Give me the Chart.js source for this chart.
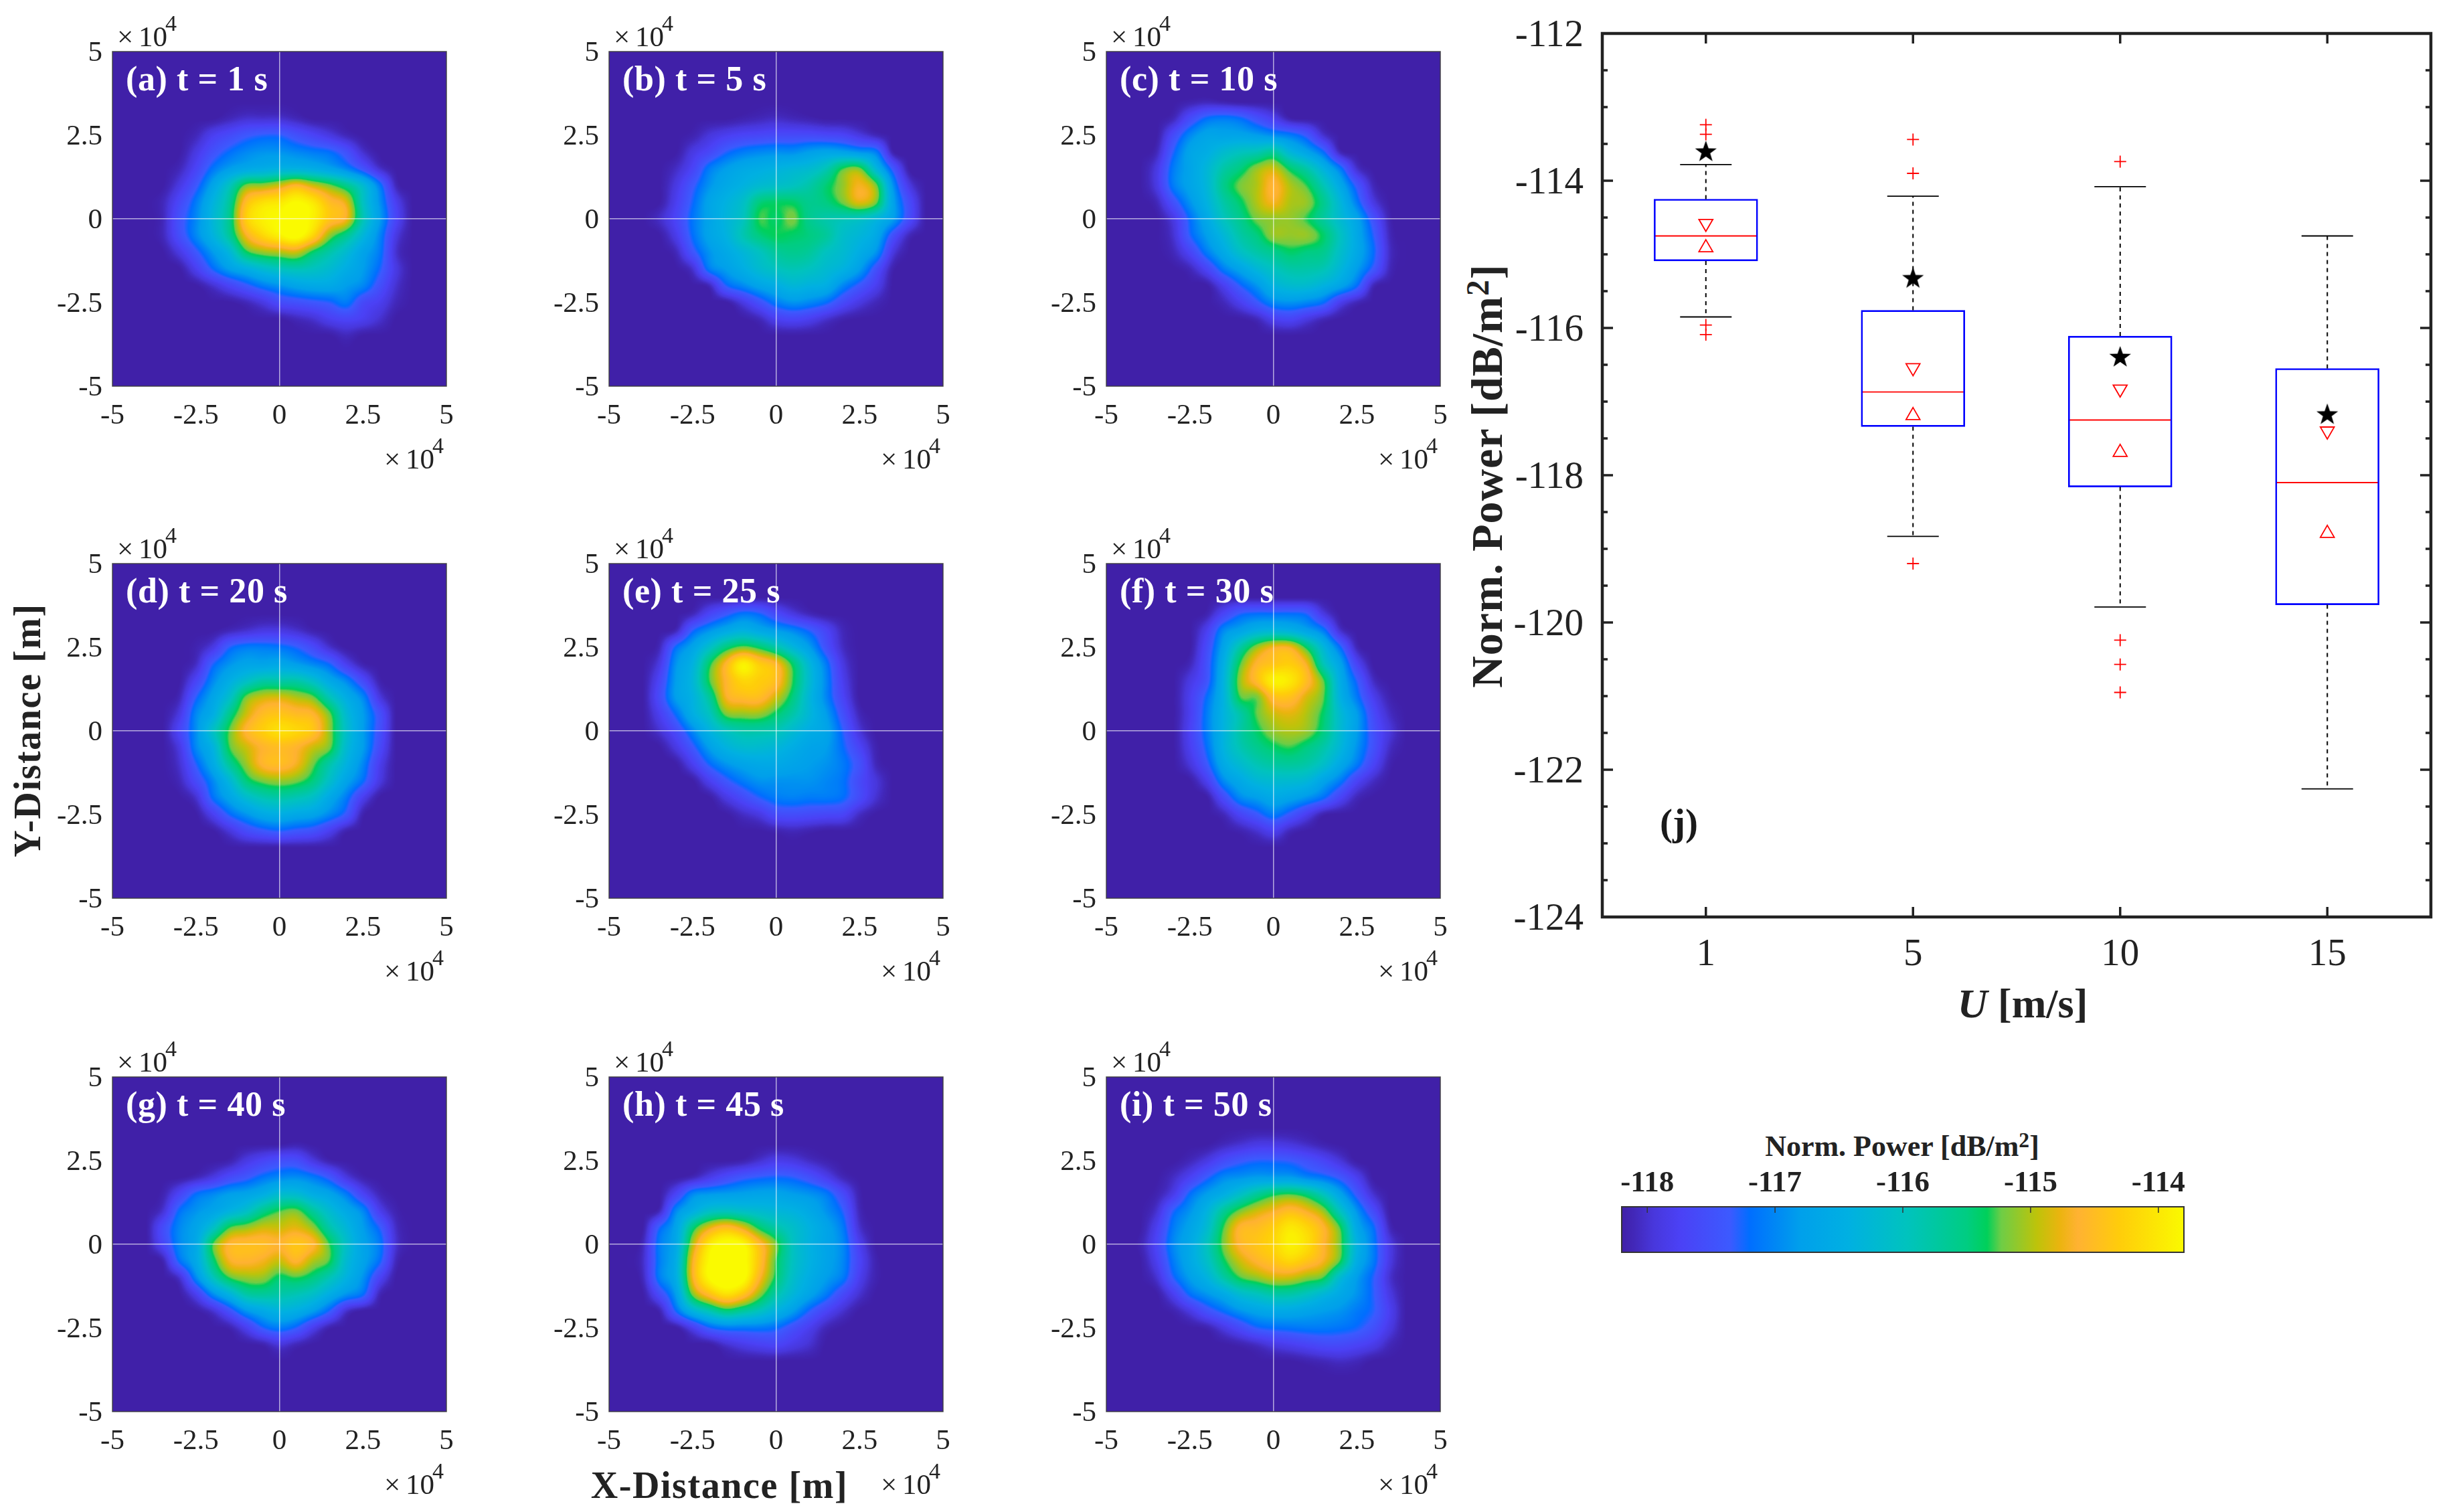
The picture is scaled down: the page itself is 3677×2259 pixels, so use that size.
<!DOCTYPE html>
<html><head><meta charset="utf-8">
<script src="https://cdn.jsdelivr.net/npm/chart.js@4"></script>
<style>
html,body{margin:0;padding:0;background:#fff;width:3677px;height:2259px;overflow:hidden}
canvas{position:absolute}
.t{position:absolute;font-family:"Liberation Serif",serif;font-weight:bold;color:#222;white-space:nowrap;line-height:1;transform:translate(-50%,-50%)}
.t sup{font-size:.72em;vertical-align:.42em;line-height:0}
</style></head><body>
<div class="t" style="left:41px;top:1091px;font-size:56px;letter-spacing:1.6px;transform:translate(-50%,-50%) rotate(-90deg)">Y-Distance [m]</div>
<div class="t" style="left:1075px;top:2219px;font-size:56px;letter-spacing:1.6px">X-Distance [m]</div>
<div class="t" style="left:2222px;top:711px;font-size:66px;letter-spacing:1px;transform:translate(-50%,-50%) rotate(-90deg)">Norm. Power [dB/m<sup>2</sup>]</div>
<div class="t" style="left:3022px;top:1499px;font-size:62px"><i>U</i> [m/s]</div>
<div class="t" style="left:2842px;top:1713px;font-size:44px">Norm. Power [dB/m<sup>2</sup>]</div>
<script>
Chart.defaults.animation=false;
Chart.defaults.font.family='"Liberation Serif",serif';
Chart.defaults.color='#222';
Chart.defaults.layout.autoPadding=false;

/* ---- heat-map panels: power in tenths of a dB above -118.2 dB/m2, rows y=+4..-4, columns x=-4..+4 (x 10^4 m) ---- */
const gridAxis=[-4,-3.5,-3,-2.5,-2,-1.5,-1,-0.5,0,0.5,1,1.5,2,2.5,3,3.5,4];
const o=[0,0,0,0,0,0,0,0,0,0,0,0,0,0,0,0,0];
const panelA=[o,o,
[0,0,0,0,0,1,2,2,2,1,0,0,0,0,0,0,0],
[0,0,0,1,4,6,8,9,9,7,5,3,1,0,0,0,0],
[0,0,0,3,7,10,12,13,13,12,11,10,7,2,0,0,0],
[0,0,1,5,10.5,14,16,17,18,18,17,15,12,7.5,2,0,0],
[0,0,3,8,15,22,30,31,33,36,33,30,26,20,11,1,0],
[0,1,5.5,11,18,25,37,41,42,44,42,37,34,22,13,4,0],
[0,1,7,12,19,26,39,43,44,45,43,38,35,23,14,5,0],
[0,1,6.5,12,18,25,35,40,43,45,40,31,26,19,12,3,0],
[0,0,3,8,13.5,19,28,31,32,33,28,24,20,15,11,2,0],
[0,0,0,4,9.5,14,17,20,22,23,22,20,17,14,9.5,3,0],
[0,0,0,0,2,5,8,11,13,15,16,16,14,12,7,2,0],
[0,0,0,0,0,0,1,3,6,7,8,9,11,6,4,1,0],
[0,0,0,0,0,0,0,0,0,1,2,4,5,4,2,0,0],
[0,0,0,0,0,0,0,0,0,0,0,0,1,0,0,0,0],o];
const panelB=[o,o,
[0,0,0,0,0,0,0.5,1,1.5,1,0.5,0,0,0,0,0,0],
[0,0,0,0.5,2.5,4,5,5.5,6,6,6,5.5,5,3,1,0,0],
[0,0,0,3,5.5,9,11,12,12.5,12.5,14,15,14.5,13,11,0.5,0],
[0,0,1.5,5,11,14,16,17,18,19,20,23,29,30,19,8,0],
[0,0,3,8,13,16,18,20,21,22,24,27.5,31,35,30,13,3],
[0,0,4,9.5,15,18,21,27,28,28,26,27,30,34,30,15,6],
[0,1.5,5,10.5,15,18.5,22,29,28,30,26,24,23,22,19,14,6],
[0,0,3.5,10,15,18,23,27,28.5,28,27,25,21,19,16,7,1],
[0,0,1,7.5,13,16,19,22,25,26,25,22,20,17,13,3,0],
[0,0,0,2,11,14,17,20,22,23,22,20,18,14,7,0.5,0],
[0,0,0,0,1,9,12,15,17,19,18,17,12,8,4,0,0],
[0,0,0,0,0,0,3,7,11,13,12,10,6,3,1,0,0],
[0,0,0,0,0,0,0,1,4,5,4,2,0.5,0,0,0,0],o,o];
const panelC=[o,
[0,0,0,0.5,1,0.5,0,0,0,0,0,0,0,0,0,0,0],
[0,0,1,6,10,11,10,7,4,0.5,0,0,0,0,0,0,0],
[0,0,6,12,15,15,15,14,12.5,11,8,2,0,0,0,0,0],
[0,1,9,15,17,20,22,23,25,19,15,10,1,0,0,0,0],
[0,3,11,15,19,24,27,31,33,28,24,18,11,2,0,0,0],
[0,3,11,15,19,26,30,32,36,32,29,23,16,8,1,0,0],
[0,1,7,13,18,24,28,32,35,32,31,26,19,11,3,0,0],
[0,0,3,10,16,22,26,30,31,31,29,25,20,15,7,0.5,0],
[0,0,2,9,14,19,24,27,31,31,31,28,22,16,9,1,0],
[0,0,1,5,11,16,21,24,26,28,27,26,21,16,10,1.5,0],
[0,0,0,1,5,11,15,19,22,24,24,23,19,14,8,1,0],
[0,0,0,0,0,4,9,13,18,20,20,18,15,10,1,0,0],
[0,0,0,0,0,1,4,8,12,13,12,10,4,1,0,0,0],
[0,0,0,0,0,0,0,1,4,5,3,1,0,0,0,0,0],o,o];
const panelD=[o,o,
[0,0,0,0,0,1,2,3,3,2,0.5,0,0,0,0,0,0],
[0,0,0,0.5,3,9,11,11,10.5,9,6,2,0,0,0,0,0],
[0,0,0,1.5,9,13,15,15,15.5,14,12,9.5,4,0.5,0,0,0],
[0,0,0,5,12,17,21,24,24,24,21,16,12,6,0.5,0,0],
[0,0,1,9,15,21,30,33,33.5,32,30,23,17,12,3,0,0],
[0,0,3,12,17,26,33,37,38,37,36,30,20,14,7,0,0],
[0,0,5,12.5,21,29.5,36,39,41,40,38,31,21,14,7,0,0],
[0,0,3,12,18,29,33,36,37,36,33,30,20,14,6,0,0],
[0,0,2,9,16,25,31,36,37,35,30,24,18,12,4,0,0],
[0,0,1,6,12,19,27,30,31,30,27,21,15,10,3,0,0],
[0,0,0,2,10,15,20,23,24,23,21,16,11,4,0,0,0],
[0,0,0,0,4,9.5,13,16,17,16,15,12,8,0.5,0,0,0],
[0,0,0,0,0,2.5,6,8,9,8,7,4,0.5,0,0,0,0],o,o];
const panelE=[o,
[0,0,0,1,5,8,10.5,9.5,6,3,1,0,0,0,0,0,0],
[0,0,1,9,13,16,18,16,14,12,9,5,1,0,0,0,0],
[0,1,10,15,21,27,30,28,24,19,14,7,1.5,0,0,0,0],
[0,3,13,18,28,36,43,39,36,28,19,11,3,0,0,0,0],
[0,5,14,19,29,36,40,39,37,29,20,12,4,0,0,0,0],
[0,6,14,18,25,35,37,37,33,27,19,12,5,0,0,0,0],
[0,4,10,17,22,30,31,31,28,24,19,14,7,1,0,0,0],
[0,2,6,12,18,22,24,24,23,20,17,15,9,2.5,0,0,0],
[0,0,3,8,14,18,20,20,19,17,15,14,10,5,0.5,0,0],
[0,0,0,4,9.5,13,15,16,16,15,14,13,11,7,1,0,0],
[0,0,0,0,4,8,11,13,13,13,13,12,10.5,6,2.5,0,0],
[0,0,0,0,0,3,6,9,11,11.5,11,11,10,6,2,0,0],
[0,0,0,0,0,0,1.5,3,6,6.5,6,5.5,5,1.5,0,0,0],
[0,0,0,0,0,0,0,0,0.5,1,0.5,0,0,0,0,0,0],o,o];
const panelF=[o,
[0,0,0,0,0.5,5,9,10,10,10,9,3,0,0,0,0,0],
[0,0,0,0,4,12,15,18,19,18,15,11,2,0,0,0,0],
[0,0,0,0,6,15,24,31,35,35,28,19,10,1,0,0,0],
[0,0,0,1,7,17,29,36,38,39,35,23,15,5,0,0,0],
[0,0,0,3,7.5,18,31,37,43,42,37,29.5,17,9,1.5,0,0],
[0,0,0,4,10,18,29,30,37,37.5,33.5,29.5,18,11,4,0.5,0],
[0,0,0,4,11,18,24,29.5,33,34,32,28,20,14,6,1.5,0],
[0,0,0,4.5,11,18,24,28,31,32,31,27,20,14,7,2.5,0],
[0,0,0,4,10,18,23,26,28,29,27,24,19,13,7,1.5,0],
[0,0,0,2.5,8,16,20,23,24.5,25,24,21,16,11,5,0.5,0],
[0,0,0,0,4,12,16,19,20,20,19,15,11,5,1.5,0,0],
[0,0,0,0,0,6,12,14,16,15,13,10,5,1,0,0,0],
[0,0,0,0,0,1,5,8,11,8,4,0.5,0,0,0,0,0],
[0,0,0,0,0,0,0.5,2,4,1,0,0,0,0,0,0,0],o,o];
const panelG=[o,o,
[0,0,0,0,0,0,0,0,0,0.5,0,0,0,0,0,0,0],
[0,0,0,0,0,0.5,3,5,6.5,6.5,3,0.5,0,0,0,0,0],
[0,0,0,1,3,6,8,10.5,12,12.5,11,8,3,0.5,0,0,0],
[0,0.5,5,10,12,14,15,17,20,20,17,15,11,5,1,0,0],
[0,2,10,13,15,18,21,26,29,30,25,20,16,12,4,0.5,0],
[0,6,12,15,21,29,31,33,33,34,31,24,19,14,9,1.5,0],
[0,5,12,16,29,36,37,37,36,38,36,29,21,15,11,2,0],
[0,0.5,10,16,27,35,36,35,33,36,32,29,20,15,10,1,0],
[0,0,2,12,22,29,31,31,28,29,27,23,18,13,5,0,0],
[0,0,0,4,12,18,24,25,24,23,21,17,13,10,1,0,0],
[0,0,0,0,2,7,13,16,18,17,14,9,2,0,0,0,0],
[0,0,0,0,0,0.5,4,9,11,9,4,0.5,0,0,0,0,0],
[0,0,0,0,0,0,0,0.5,2.5,1,0,0,0,0,0,0,0],o,o];
const panelH=[o,o,o,
[0,0,0,0,0,0,0.5,2,3.5,3,1.5,0.5,0,0,0,0,0],
[0,0,0,1,3.5,6,8,9,9.5,9,7,4,1,0,0,0,0],
[0,0,5,12,13.5,14,14.5,15,15,14,13,11,6,0.5,0,0,0],
[0,1,12,17,21,22,21,20,19,18,16,13,9,1,0,0,0],
[0,9,15,27,34,37,34,28,24,21,18,15,11,2,0,0,0],
[1,11,16,32,42,45,44,37,30,22,18,15,12,4,0,0,0],
[1.5,11,17,35,44,45,45,38,29,22,18,15,12,5,0.5,0,0],
[1,11,17,35,44,46,45,36,28,21,17,14,11,4,0.5,0,0],
[0,6,14,30,37,41,38,31,24,19,15,11,6,2,0,0,0],
[0,0.5,9.5,18,23,27,25,22,18,14,9,5,2,0,0,0,0],
[0,0,0,4,9,11,11,11,10,7,4,1,0,0,0,0,0],
[0,0,0,0,0,2,3.5,4.5,5,3.5,2,0,0,0,0,0,0],o,o];
const panelI=[o,o,
[0,0,0,0,0,1,2,3,3,2.5,1.5,0.5,0,0,0,0,0],
[0,0,0,1,3,6,8,9,9,8.5,7,5,2.5,0,0,0,0],
[0,0,1.5,4.5,8.5,12,13,14,14,14,12,10.5,8,4,0,0,0],
[0,0.5,3.5,10,14,17,21,25,28,29,27,22,15,8,2,0,0],
[0,2,9,13,18,25,30,33,35,37,35,31,22,13,6,0,0],
[0,4,11,15,20,29,36,37,39,42,40,36,29,16,10,1,0],
[0.5,5,12,16,22,30,36,38,40,43,41,36,30,18,11,3,0],
[0,4,11,16,21,28,33,36,38,40,38,35,29,17,11,3,0],
[0,2,9,14,18,24,29,31,33,33,31,29,20,14,9,2,0],
[0,0,4,10,13,16,20,22,24,24,22,19,16,13,9,3,0],
[0,0,0.5,3,7,10,13,15,16,16,15,14,13,11,9,4,0],
[0,0,0,0,0.5,3,6,9,10,10.5,11,11,10.5,9.5,7,3,0],
[0,0,0,0,0,0,0.5,1.5,3,4,5,6,6,5,3.5,1,0],
[0,0,0,0,0,0,0,0,0,0,0.5,1,1.5,1,0,0,0],o];
const panelGrids=[panelA,panelB,panelC,panelD,panelE,panelF,panelG,panelH,panelI];
const panelTags=['(a) t = 1 s','(b) t = 5 s','(c) t = 10 s','(d) t = 20 s','(e) t = 25 s','(f) t = 30 s','(g) t = 40 s','(h) t = 45 s','(i) t = 50 s'];
const panelTickValues=[-5e4,-2.5e4,0,2.5e4,5e4];
const colLefts=[168,910,1653], rowTops=[77,842,1609];

/* ---- colour map (same scale as colour bar) ---- */
const cmapValues=[-118.2,-118.1,-117.95,-117.75,-117.35,-117.2,-116.8,-116.43,-115.97,-115.5,-115.34,-115.23,-114.95,-114.77,-114.63,-114.3,-113.8];
const cmapColors=[[64,32,168],[66,40,185],[72,55,220],[75,65,245],[60,90,255],[0,110,255],[0,160,235],[0,176,226],[0,195,190],[0,205,130],[0,208,90],[110,205,70],[190,195,10],[235,180,15],[255,178,50],[255,205,10],[250,250,0]];
const colorbarTicks=[-118,-117,-116,-115,-114];

/* ---- box plot statistics ---- */
const boxLabels=['1','5','10','15'];
const boxPos=[1,2,3,4];
const boxQ3=[-114.25,-115.76,-116.11,-116.55];
const boxQ1=[-115.09,-117.34,-118.16,-119.76];
const boxMedian=[-114.75,-116.87,-117.25,-118.10];
const whiskerHigh=[-113.78,-114.21,-114.08,-114.75];
const whiskerLow=[-115.85,-118.83,-119.79,-122.26];
const notchHigh=[-114.58,-116.54,-116.83,-117.40];
const notchLow=[-114.91,-117.19,-117.69,-118.79];
const starValues=[-113.61,-115.33,-116.40,-117.18];
const outliers=[[-113.24,-113.37,-115.96,-116.09],[-113.44,-113.90,-119.20],[-113.74,-120.24,-120.57,-120.95],[]];
const yMajor=[-124,-122,-120,-118,-116,-114,-112];
const yMinor=[-123.5,-123,-122.5,-121.5,-121,-120.5,-119.5,-119,-118.5,-117.5,-117,-116.5,-115.5,-115,-114.5,-113.5,-113,-112.5];

/* LUT */
const LUT=(()=>{const n=441,a=new Uint8Array(n*3);
 for(let i=0;i<n;i++){const v=-118.2+i/100;let k=0;while(k<cmapValues.length-2&&v>cmapValues[k+1])k++;
  const t=Math.min(1,Math.max(0,(v-cmapValues[k])/(cmapValues[k+1]-cmapValues[k])));
  for(let c=0;c<3;c++)a[i*3+c]=cmapColors[k][c]+(cmapColors[k+1][c]-cmapColors[k][c])*t;}
 return a;})();

function crWeights(f){const f2=f*f,f3=f2*f;return[-.5*f3+f2-.5*f,1.5*f3-2.5*f2+1,-1.5*f3+2*f2+.5*f,.5*f3-.5*f2];}

const heatPlugin={id:'heat',beforeDatasetsDraw(chart){
 const a=chart.chartArea,xs=chart.scales.x,ys=chart.scales.y,W=Math.round(a.right-a.left),H=Math.round(a.bottom-a.top);
 const cells=chart.data.datasets[0].data,N=gridAxis.length;
 const g=new Float32Array(N*N);
 cells.forEach(c=>{const ix=gridAxis.indexOf(c.x/1e4),iy=gridAxis.indexOf(-c.y/1e4);g[iy*N+ix]=c.v;});
 const at=(i,j)=>(i<0||j<0||i>=N||j>=N)?0:g[i*N+j];
 const prepX=(val)=>{const p=(val/1e4+4)/.5;const i=Math.floor(p);return{i,w:crWeights(p-i)};};
 const prepY=(val)=>{const p=(4-val/1e4)/.5;const i=Math.floor(p);return{i,w:crWeights(p-i)};};
 const px=[];for(let x=0;x<W;x++)px.push(prepX(xs.getValueForPixel(a.left+x+.5)));
 const py=[];for(let y=0;y<H;y++)py.push(prepY(ys.getValueForPixel(a.top+y+.5)));
 const cv=document.createElement('canvas');cv.width=W;cv.height=H;const c2=cv.getContext('2d'),img=c2.createImageData(W,H),d=img.data;
 for(let y=0;y<H;y++){const Y=py[y];for(let x=0;x<W;x++){const X=px[x];let s=0;
   for(let m=0;m<4;m++){const wy=Y.w[m];for(let n=0;n<4;n++)s+=wy*X.w[n]*at(Y.i+m-1,X.i+n-1);}
   const idx=Math.max(0,Math.min(440,Math.round(s*10)));const q=(y*W+x)*4;
   d[q]=LUT[idx*3];d[q+1]=LUT[idx*3+1];d[q+2]=LUT[idx*3+2];d[q+3]=255;}}
 c2.putImageData(img,0,0);chart.ctx.drawImage(cv,a.left,a.top);
}};

function tenFour(ctx,x,base){
 ctx.fillStyle='#222';ctx.textAlign='left';ctx.textBaseline='alphabetic';
 ctx.font='43px "Liberation Serif"';ctx.fillText('×',x,base);ctx.fillText('10',x+32,base);
 ctx.font='34px "Liberation Serif"';ctx.fillText('4',x+72,base-23);
}
function panelText(tag){return{id:'panelText',afterDraw(chart){
 const ctx=chart.ctx,a=chart.chartArea;ctx.save();
 ctx.strokeStyle='rgba(60,60,60,.9)';ctx.lineWidth=1.5;ctx.strokeRect(a.left,a.top,a.right-a.left,a.bottom-a.top);
 ctx.fillStyle='#fff';ctx.font='bold 52px "Liberation Serif"';ctx.letterSpacing='0.6px';ctx.textAlign='left';ctx.textBaseline='alphabetic';
 ctx.fillText(tag,a.left+20,a.top+58);ctx.letterSpacing='0px';
 tenFour(ctx,a.left+7,a.top-8);tenFour(ctx,a.right-93,a.bottom+123);
 ctx.restore();}};}

function makeCanvas(l,t,w,h){const c=document.createElement('canvas');c.width=w;c.height=h;c.style.left=l+'px';c.style.top=t+'px';c.style.width=w+'px';c.style.height=h+'px';document.body.appendChild(c);return c;}
const fixX=h=>s=>{s.height=h;s.paddingLeft=0;s.paddingRight=0;};
const fixY=w=>s=>{s.width=w;s.paddingTop=0;s.paddingBottom=0;};

panelGrids.forEach((grid,p)=>{
 const L=colLefts[p%3],T=rowTops[Math.floor(p/3)];
 const cv=makeCanvas(L-150,T-70,679,710);
 const cells=[];grid.forEach((row,r)=>row.forEach((v,c)=>cells.push({x:gridAxis[c]*1e4,y:-gridAxis[r]*1e4,v})));
 const gridLine={z:1,drawTicks:false,lineWidth:1.5,color:c=>c.tick&&c.tick.value===0?'rgba(255,255,255,.62)':'transparent'};
 const tickFont={size:43,family:'"Liberation Serif"'};
 new Chart(cv,{type:'scatter',plugins:[heatPlugin,panelText(panelTags[p])],
  data:{datasets:[{label:panelTags[p],data:cells,pointRadius:0}]},
  options:{responsive:false,events:[],layout:{autoPadding:false,padding:{top:70,right:30}},plugins:{legend:{display:false},tooltip:{enabled:false}},
   scales:{
    x:{type:'linear',min:-5e4,max:5e4,afterFit:fixX(140),afterBuildTicks:s=>{s.ticks=panelTickValues.map(value=>({value}))},border:{display:false},grid:gridLine,
       ticks:{font:tickFont,color:'#222',padding:19,maxRotation:0,autoSkip:false,callback:v=>String(v/1e4)}},
    y:{type:'linear',min:-5e4,max:5e4,afterFit:fixY(150),afterBuildTicks:s=>{s.ticks=panelTickValues.map(value=>({value}))},border:{display:false},grid:gridLine,
       ticks:{font:tickFont,color:'#222',padding:15,labelOffset:3,autoSkip:false,callback:v=>String(v/1e4)}}
   }}});
});

/* ---- box plot ---- */
function starImage(r){const s=Math.ceil(r*2+2),c=document.createElement('canvas');c.width=s;c.height=s;const x=c.getContext('2d');x.fillStyle='#000';x.beginPath();
 for(let i=0;i<10;i++){const rad=i%2?r*.4:r,an=-Math.PI/2+i*Math.PI/5;x.lineTo(s/2+rad*Math.cos(an),s/2+rad*Math.sin(an));}
 x.closePath();x.fill();return c;}
const boxFrame={id:'boxFrame',afterDraw(chart){
 const ctx=chart.ctx,a=chart.chartArea,xs=chart.scales.x,ys=chart.scales.y;ctx.save();ctx.strokeStyle='#222';
 ctx.lineWidth=3.5;
 yMajor.forEach(v=>{const y=ys.getPixelForValue(v);ctx.beginPath();ctx.moveTo(a.left,y);ctx.lineTo(a.left+16,y);ctx.moveTo(a.right,y);ctx.lineTo(a.right-16,y);ctx.stroke();});
 yMinor.forEach(v=>{const y=ys.getPixelForValue(v);ctx.beginPath();ctx.moveTo(a.left,y);ctx.lineTo(a.left+8,y);ctx.moveTo(a.right,y);ctx.lineTo(a.right-8,y);ctx.stroke();});
 boxPos.forEach(v=>{const x=xs.getPixelForValue(v);ctx.beginPath();ctx.moveTo(x,a.bottom);ctx.lineTo(x,a.bottom-15);ctx.moveTo(x,a.top);ctx.lineTo(x,a.top+15);ctx.stroke();});
 ctx.lineWidth=4.5;ctx.strokeRect(a.left,a.top,a.right-a.left,a.bottom-a.top);
 ctx.fillStyle='#1a1a1a';ctx.font='bold 57px "Liberation Serif"';ctx.textAlign='left';ctx.textBaseline='alphabetic';ctx.fillText('(j)',xs.getPixelForValue(0.5)+86,ys.getPixelForValue(-122.89));
 ctx.restore();}};
const whiskerData=[];
boxPos.forEach((x,i)=>{whiskerData.push({x,y:boxQ3[i]},{x,y:whiskerHigh[i]},{x,y:null},{x,y:boxQ1[i]},{x,y:whiskerLow[i]},{x,y:null});});
const outlierData=[];outliers.forEach((list,i)=>list.forEach(y=>outlierData.push({x:boxPos[i],y})));
const pts=a=>a.map((y,i)=>({x:boxPos[i],y}));
new Chart(makeCanvas(2200,0,1477,1500),{
 plugins:[boxFrame],
 data:{datasets:[
  {type:'line',label:'Whiskers',data:whiskerData,borderColor:'#000',borderWidth:2,borderDash:[6,6],pointRadius:0,spanGaps:false,tension:0},
  {type:'bar',label:'IQR',data:boxPos.map((x,i)=>({x,y:[boxQ1[i],boxQ3[i]]})),borderColor:'#0000ff',borderWidth:2,backgroundColor:'rgba(0,0,0,0)',borderSkipped:false,barThickness:155,grouped:false},
  {type:'scatter',label:'Median',data:pts(boxMedian),pointStyle:'line',pointRadius:77,pointBorderColor:'#ff0000',pointBorderWidth:1.8},
  {type:'scatter',label:'Upper whisker',data:pts(whiskerHigh),pointStyle:'line',pointRadius:38.5,pointBorderColor:'#000',pointBorderWidth:1.8},
  {type:'scatter',label:'Lower whisker',data:pts(whiskerLow),pointStyle:'line',pointRadius:38.5,pointBorderColor:'#000',pointBorderWidth:1.8},
  {type:'scatter',label:'Outliers',data:outlierData,pointStyle:'cross',pointRadius:9,pointBorderColor:'#ff0000',pointBorderWidth:1.8},
  {type:'scatter',label:'Notch high',data:pts(notchHigh),pointStyle:'triangle',pointRotation:180,pointRadius:12,pointBorderColor:'#ff0000',pointBackgroundColor:'rgba(0,0,0,0)',pointBorderWidth:1.8},
  {type:'scatter',label:'Notch low',data:pts(notchLow),pointStyle:'triangle',pointRadius:12,pointBorderColor:'#ff0000',pointBackgroundColor:'rgba(0,0,0,0)',pointBorderWidth:1.8},
  {type:'scatter',label:'Reference',data:pts(starValues),pointStyle:starImage(17),pointRadius:17}
 ]},
 options:{responsive:false,events:[],layout:{autoPadding:false,padding:{top:50,right:45}},plugins:{legend:{display:false},tooltip:{enabled:false}},
  scales:{
   x:{type:'linear',min:.5,max:4.5,offset:false,afterFit:fixX(130),afterBuildTicks:s=>{s.ticks=boxPos.map(value=>({value}))},border:{display:false},grid:{display:false},
      ticks:{font:{size:57,family:'"Liberation Serif"'},color:'#222',padding:15,maxRotation:0,autoSkip:false,callback:v=>boxLabels[boxPos.indexOf(v)]}},
   y:{type:'linear',min:-124,max:-112,afterFit:fixY(194),afterBuildTicks:s=>{s.ticks=yMajor.map(value=>({value}))},border:{display:false},grid:{display:false},
      ticks:{font:{size:57,family:'"Liberation Serif"'},color:'#222',padding:20,labelOffset:4,autoSkip:false,callback:v=>String(v)}}
  }}});

/* ---- colour bar ---- */
const barPlugin={id:'bar',beforeDatasetsDraw(chart){
 const ctx=chart.ctx,a=chart.chartArea,xs=chart.scales.x;
 const x0=xs.getPixelForValue(cmapValues[0]),x1=xs.getPixelForValue(cmapValues[cmapValues.length-1]);
 const gr=ctx.createLinearGradient(x0,0,x1,0);
 cmapValues.forEach((v,i)=>gr.addColorStop((xs.getPixelForValue(v)-x0)/(x1-x0),'rgb('+cmapColors[i].join(',')+')'));
 ctx.save();ctx.fillStyle=gr;ctx.fillRect(a.left,a.top,a.right-a.left,a.bottom-a.top);ctx.restore();
},afterDraw(chart){
 const ctx=chart.ctx,a=chart.chartArea,xs=chart.scales.x;ctx.save();ctx.strokeStyle='#333';ctx.lineWidth=1.5;
 colorbarTicks.forEach(v=>{const x=xs.getPixelForValue(v);ctx.beginPath();ctx.moveTo(x,a.top);ctx.lineTo(x,a.top+9);ctx.stroke();});
 ctx.lineWidth=2;ctx.strokeRect(a.left,a.top,a.right-a.left,a.bottom-a.top);ctx.restore();}};
new Chart(makeCanvas(2380,1690,920,200),{type:'scatter',plugins:[barPlugin],
 data:{datasets:[{label:'Norm. Power',data:cmapValues.map(x=>({x,y:0})),pointRadius:0}]},
 options:{responsive:false,events:[],layout:{autoPadding:false,padding:{left:43,right:37,bottom:19}},plugins:{legend:{display:false},tooltip:{enabled:false}},
  scales:{
   x:{type:'linear',position:'top',min:-118.2,max:-113.8,afterFit:fixX(113),afterBuildTicks:s=>{s.ticks=colorbarTicks.map(value=>({value}))},border:{display:false},grid:{display:false},
      ticks:{font:{size:45,weight:'bold',family:'"Liberation Serif"'},color:'#222',padding:0,maxRotation:0,autoSkip:false,callback:v=>String(v)}},
   y:{display:false,min:-1,max:1}
  }}});
</script></body></html>
